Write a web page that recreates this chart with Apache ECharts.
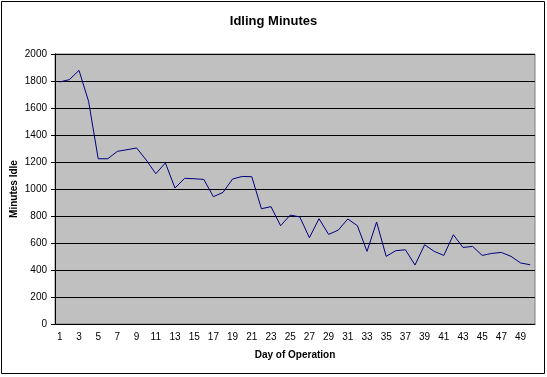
<!DOCTYPE html>
<html>
<head>
<meta charset="UTF-8">
<title>Idling Minutes</title>
<script src="https://cdn.jsdelivr.net/npm/echarts@6/dist/echarts.min.js"></script>
<style>
  html, body { margin: 0; padding: 0; background: #fff; }
</style>
</head>
<body>
<div id="main" style="width:547px;height:377px;"></div>
<script type="text/javascript">
// days of operation 1..50
var days = [];
for (var d = 1; d <= 50; d++) days.push(String(d));

// minutes idle per day
var idleMinutes = [
  1793, 1810, 1879, 1649, 1224, 1224, 1279, 1291, 1304, 1215,
  1113, 1193, 1007, 1079, 1076, 1071, 943, 975, 1074, 1093,
  1091, 854, 869, 728, 807, 793, 639, 780, 664, 695,
  778, 728, 538, 755, 501, 543, 550, 437, 587, 538,
  508, 661, 567, 575, 508, 523, 530, 501, 452, 439
];

var yTicks = { min: 0, max: 2000, step: 200 };

var myChart = echarts.init(document.getElementById('main'));
var font = 'Liberation Sans, Arial, sans-serif';

var option = {
  animation: false,
  backgroundColor: '#fff',
  title: {
    text: 'Idling Minutes',
    left: 'center',
    top: 10,
    textStyle: { fontFamily: font, fontSize: 13, fontWeight: 'bold', color: '#000' }
  },
  graphic: [{
    type: 'rect',
    shape: { x: 1.5, y: 1.5, width: 543, height: 372 },
    style: { fill: 'none', stroke: '#000', lineWidth: 1 }
  }],
  grid: {
    left: 55, top: 54, width: 480, height: 270,
    outerBoundsMode: 'none',
    containLabel: false,
    show: true,
    backgroundColor: '#C0C0C0',
    borderColor: '#808080',
    borderWidth: 1
  },
  xAxis: {
    type: 'category',
    data: days,
    name: 'Day of Operation',
    nameLocation: 'middle',
    nameGap: 26,
    nameMoveOverlap: false,
    nameTextStyle: { fontFamily: font, fontSize: 10, fontWeight: 'bold', color: '#000' },
    axisLine: { lineStyle: { color: '#000', width: 1 } },
    axisTick: { interval: 0, length: 4, lineStyle: { color: '#000' } },
    axisLabel: { interval: 1, fontFamily: font, fontSize: 10, color: '#000', margin: 8 },
    splitLine: { show: false }
  },
  yAxis: {
    type: 'value',
    min: yTicks.min,
    max: yTicks.max,
    interval: yTicks.step,
    name: 'Minutes Idle',
    nameLocation: 'middle',
    nameGap: 36,
    nameMoveOverlap: false,
    nameTextStyle: { fontFamily: font, fontSize: 10, fontWeight: 'bold', color: '#000' },
    axisLine: { show: true, lineStyle: { color: '#000', width: 1 } },
    axisTick: { show: true, length: 4, lineStyle: { color: '#000' } },
    axisLabel: {
      fontFamily: font, fontSize: 10, color: '#000', margin: 8,
      formatter: function (v) { return String(v); }
    },
    splitLine: { lineStyle: { color: '#000', width: 1 } }
  },
  series: [{
    name: 'Minutes Idle',
    type: 'line',
    data: idleMinutes,
    symbol: 'none',
    lineStyle: { color: '#000080', width: 1 }
  }]
};
myChart.setOption(option);
</script>
</body>
</html>
